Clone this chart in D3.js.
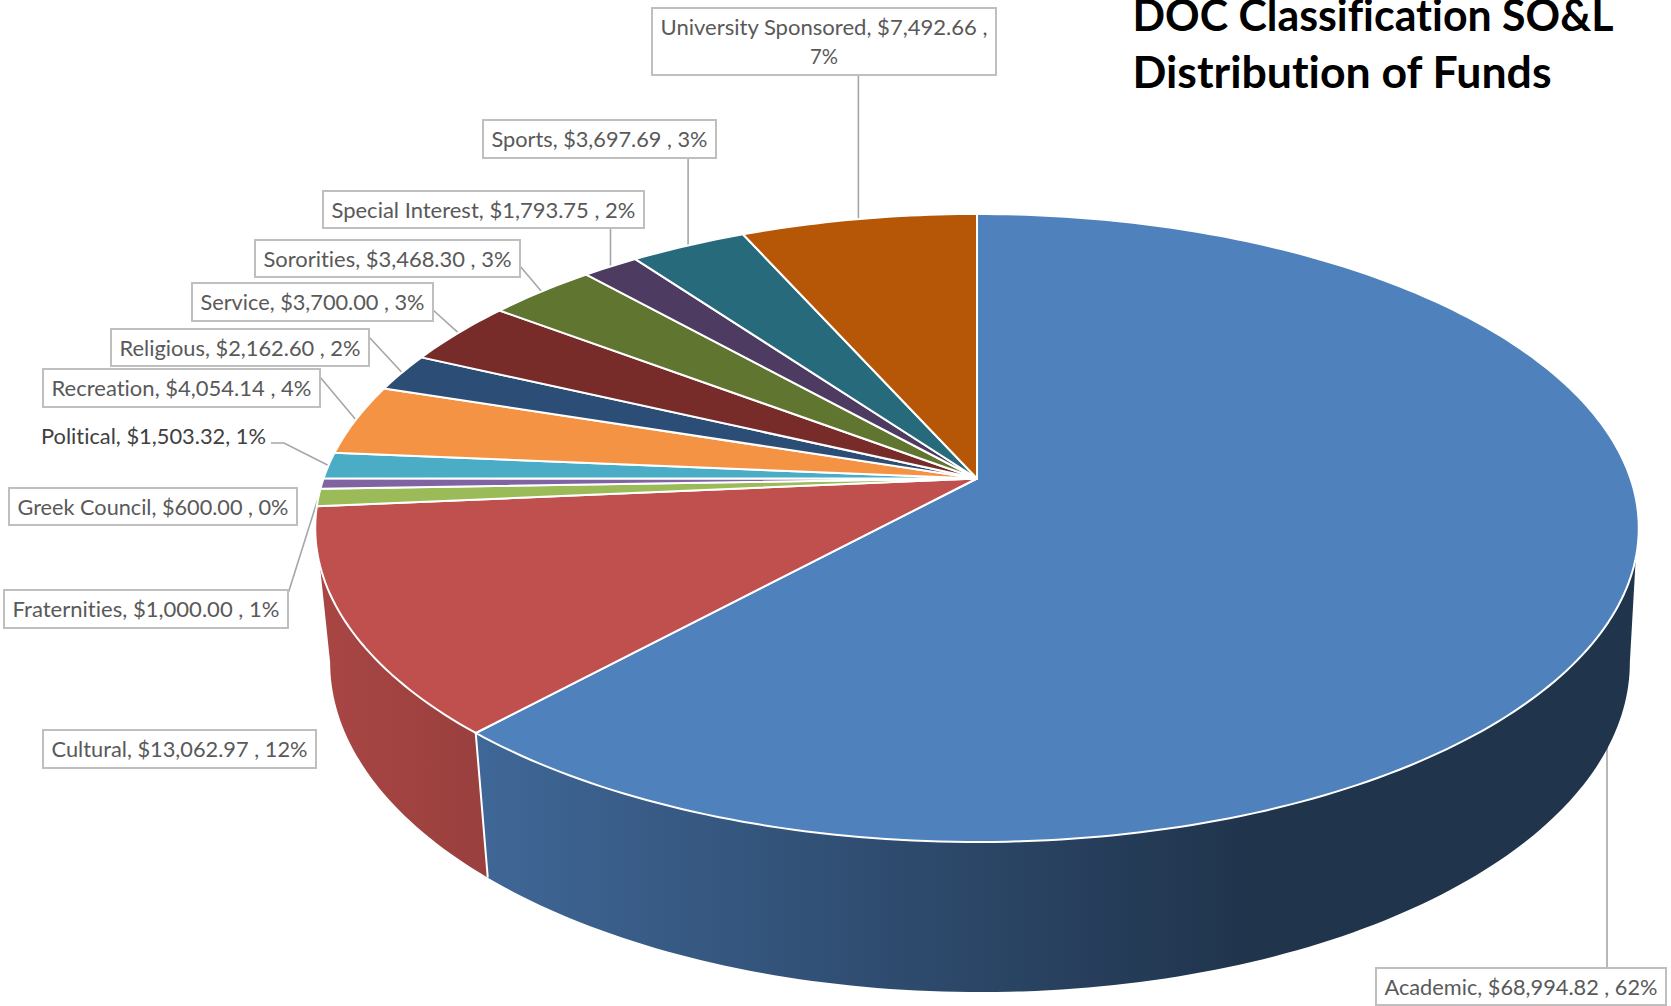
<!DOCTYPE html>
<html>
<head>
<meta charset="utf-8">
<script src="https://cdn.jsdelivr.net/npm/d3@7"></script>
<style>
  html, body { margin: 0; padding: 0; background: #fff; overflow: hidden; }
  text { font-family: Lato, "Open Sans", sans-serif; font-variant-ligatures: none; }
</style>
</head>
<body>
<div id="chart"></div>
<script>
// --- data ---
const categories = ['Academic', 'Cultural', 'Fraternities', 'Greek Council', 'Political', 'Recreation',
  'Religious', 'Service', 'Sororities', 'Special Interest', 'Sports', 'University Sponsored'];
const amounts = [68994.82, 13062.97, 1000.00, 600.00, 1503.32, 4054.14,
  2162.60, 3700.00, 3468.30, 1793.75, 3697.69, 7492.66];
const percents = [62, 12, 1, 0, 1, 4, 2, 3, 3, 2, 3, 7];
const titleLines = ['DOC Classification SO&L', 'Distribution of Funds'];

const colors = ['#4f81bd', '#c0504d', '#9bbb59', '#8064a2', '#4bacc6', '#f59344',
  '#2c4d75', '#772c2a', '#5f7530', '#4d3b62', '#276a7c', '#b65708'];

// label boxes, same order as categories: [x0, x1, y0, y1]
const labelBoxes = [
  [1376, 1666, 968, 1005],
  [43, 316, 730, 768],
  [4, 288, 590, 628],
  [9, 297, 488, 525],
  [33, 274, 418, 454],
  [43, 320, 369, 407],
  [111, 369, 329, 366],
  [192, 433, 283, 321],
  [255, 520, 240, 277],
  [323, 644, 191, 228],
  [483, 716, 120, 158],
  [652, 996, 8, 75],
];
// where each leader leaves its label; null x = straight down/up from the slice
const leaderStarts = [
  [1607, 968], null, [288.6, 592], null, [271, 443], [320, 377],
  [369, 337], [433, 310], [520, 266], [null, 228], [null, 158], [null, 75],
];

const width = 1671, height = 1006;

// --- 3d pie geometry: disk under perspective ---
const cx = 977, cy = 478.5;
const rx = 653.5, ry = 306.2, persp = 0.1576;
const bottomCx = 980, depthScaleX = 0.982, depthScaleY = 1.05, depthShift = 108;
const deg = Math.PI / 180;
// where the side silhouette leaves each rim (the straight edges left and right)
const sideTop = [104.4 * deg, 254.3 * deg];
const sideBottom = [99 * deg, 260.9 * deg];

function rimTop(a) {
  const u = Math.sin(a), v = -Math.cos(a), d = 1 - persp * v;
  return [cx + rx * u / d, cy + ry * v / d];
}
function rimBottom(a) {
  const [x, y] = rimTop(a);
  return [bottomCx + depthScaleX * (x - cx), depthScaleY * y + depthShift];
}
function sampleAngles(a0, a1) {
  const n = Math.max(2, Math.ceil((a1 - a0) / deg));
  return d3.range(n + 1).map(i => a0 + (a1 - a0) * i / n);
}

const slices = d3.pie().sort(null).value(d => d)(amounts);
const line = d3.line();

const svg = d3.select('#chart').append('svg')
  .attr('width', width)
  .attr('height', height)
  .style('display', 'block');

// side shading runs left to right, light to dark
const shade = d3.scaleLinear().domain([314, 476, 1250, 1640]).range([0.88, 0.8, 0.4, 0.4]);
const defs = svg.append('defs');
colors.forEach((c, i) => {
  const grad = defs.append('linearGradient')
    .attr('id', `side-${i}`)
    .attr('gradientUnits', 'userSpaceOnUse')
    .attr('x1', 314).attr('x2', 1640).attr('y1', 0).attr('y2', 0);
  const base = d3.rgb(c);
  shade.domain().forEach(x => {
    const k = shade(x);
    grad.append('stop')
      .attr('offset', (x - 314) / (1640 - 314))
      .attr('stop-color', d3.rgb(base.r * k, base.g * k, base.b * k).formatHex());
  });
});

// --- leaders (behind the pie, so the Academic one stops at the side) ---
const leaders = svg.append('g')
  .attr('fill', 'none')
  .attr('stroke', '#a6a6a6')
  .attr('stroke-width', 1.6);
slices.forEach((s, i) => {
  const start = leaderStarts[i];
  if (!start) return;
  const mid = (s.startAngle + s.endAngle) / 2;
  const end = i === 0 ? [start[0], rimBottom(mid)[1]] : rimTop(mid);
  const pts = [[start[0] == null ? end[0] : start[0], start[1]]];
  if (categories[i] === 'Political') pts.push([start[0] + 13, start[1]]);
  pts.push(end);
  leaders.append('path').attr('d', line(pts));
});

// --- sides ---
const sides = svg.append('g');
slices.forEach((s, i) => {
  const t0 = Math.max(s.startAngle, sideTop[0]), t1 = Math.min(s.endAngle, sideTop[1]);
  if (t1 <= t0) return;
  const b0 = Math.max(s.startAngle, sideBottom[0]), b1 = Math.min(s.endAngle, sideBottom[1]);
  const pts = sampleAngles(t0, t1).map(rimTop)
    .concat(sampleAngles(b0, b1).reverse().map(rimBottom));
  sides.append('path')
    .attr('d', line(pts) + 'Z')
    .attr('fill', `url(#side-${i})`);
});
// seam between the front slices
sides.append('path')
  .attr('d', line([rimTop(slices[0].endAngle), rimBottom(slices[0].endAngle)]))
  .attr('stroke', '#fff')
  .attr('stroke-width', 2)
  .attr('fill', 'none');

// --- top face ---
const topFace = svg.append('g');
slices.forEach((s, i) => {
  const pts = [[cx, cy]].concat(sampleAngles(s.startAngle, s.endAngle).map(rimTop));
  topFace.append('path')
    .attr('d', line(pts) + 'Z')
    .attr('fill', colors[i])
    .attr('stroke', '#fff')
    .attr('stroke-width', 2)
    .attr('stroke-linejoin', 'round');
});

// --- labels ---
const fmt = d3.format('$,.2f');
const labels = svg.append('g');
categories.forEach((name, i) => {
  const [x0, x1, y0, y1] = labelBoxes[i];
  const political = name === 'Political';
  const sep = political ? ', ' : ' , ';
  const g = labels.append('g');
  if (!political) {
    g.append('rect')
      .attr('x', x0).attr('y', y0)
      .attr('width', x1 - x0).attr('height', y1 - y0)
      .attr('fill', '#fff')
      .attr('stroke', '#bfbfbf')
      .attr('stroke-width', 2);
  }
  const full = `${name}, ${fmt(amounts[i])}${sep}${percents[i]}%`;
  const textAttrs = (sel, str, xMid, yBase, len) => sel
    .attr('x', xMid).attr('y', yBase)
    .attr('text-anchor', 'middle')
    .attr('font-size', 21.5)
    .attr('fill', political ? '#404040' : '#595959')
    .attr('textLength', len)
    .attr('lengthAdjust', 'spacingAndGlyphs')
    .text(str);
  if (name === 'University Sponsored') {
    textAttrs(g.append('text'), `${name}, ${fmt(amounts[i])} ,`, (x0 + x1) / 2, 35, 327);
    textAttrs(g.append('text'), `${percents[i]}%`, (x0 + x1) / 2, 64, 28);
  } else {
    textAttrs(g.append('text'), full, (x0 + x1) / 2, (y0 + y1) / 2 + 8, x1 - x0 - (political ? 16 : 17));
  }
});

// --- title (runs off the top edge, as in the source) ---
const titleLengths = [481, 419];
titleLines.forEach((t, i) => {
  svg.append('text')
    .attr('x', 1132.5)
    .attr('y', 31 + i * 57)
    .attr('font-size', 43)
    .attr('font-weight', 700)
    .attr('fill', '#000')
    .attr('textLength', titleLengths[i])
    .attr('lengthAdjust', 'spacingAndGlyphs')
    .text(t);
});
</script>
</body>
</html>
